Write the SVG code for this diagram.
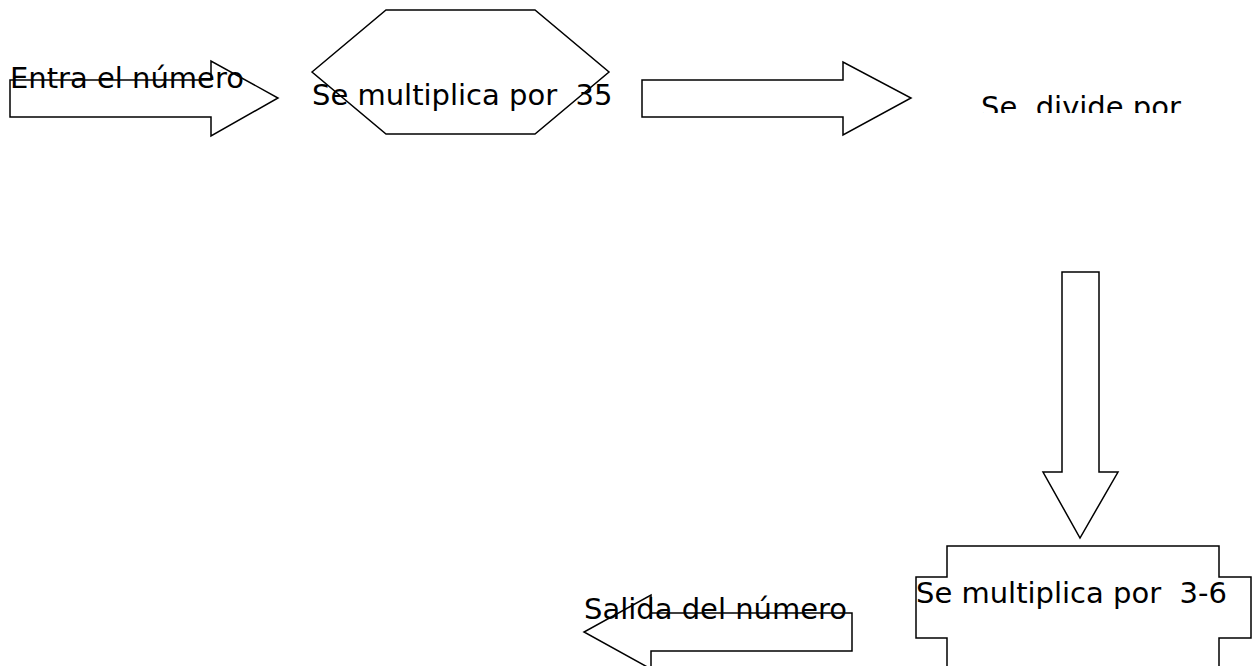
<svg xmlns="http://www.w3.org/2000/svg" width="1257" height="666" viewBox="0 0 1257 666">
<style>
.s{fill:#fff;stroke:#000;stroke-width:1.5;stroke-linejoin:miter}
.t{font-family:"DejaVu Sans",sans-serif;font-size:29px;fill:#000}
</style>
<defs>
<clipPath id="clipDiv"><rect x="940" y="60" width="300" height="53"/></clipPath>
</defs>
<rect width="1257" height="666" fill="#fff"/>
<g id="connectors">
<polygon id="arrow1" class="s" points="10,80 211,80 211,61 278,98 211,136 211,117 10,117"/>
<polygon id="arrow2" class="s" points="642,80 843,80 843,62 911,98 843,135 843,117 642,117"/>
<polygon id="arrow3" class="s" points="1062,272 1099,272 1099,472 1118,472 1080,538 1043,472 1062,472"/>
<polygon id="arrow4" class="s" points="852,613 651,613 651,595 584,632 651,669 651,651 852,651"/>
</g>
<g id="node-entrada">
<text class="t" x="10" y="88">Entra el número</text>
</g>
<g id="node-mult35">
<polygon class="s" points="312,72 386,10 535,10 609,72 535,134 386,134" fill="none" style="fill:none"/>
<text class="t" x="312" y="105" xml:space="preserve">Se multiplica por  35</text>
</g>
<g id="node-divide">
<text class="t" x="981" y="117" clip-path="url(#clipDiv)" xml:space="preserve">Se  divide por</text>
</g>
<g id="node-mult36">
<polygon class="s" points="947,680 947,638 916,638 916,577 947,577 947,546 1219,546 1219,577 1251,577 1251,638 1219,638 1219,680"/>
<text class="t" x="916" y="603" xml:space="preserve">Se multiplica por  3-6</text>
</g>
<g id="node-salida">
<text class="t" x="584" y="619">Salida del número</text>
</g>
</svg>
